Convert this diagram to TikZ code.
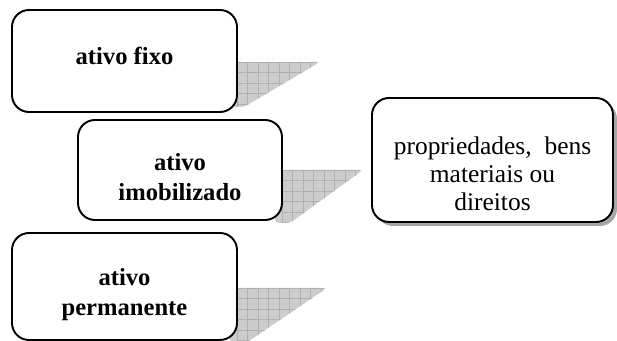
\documentclass[tikz,border=0pt]{standalone}
\usepackage{fontspec}
\setmainfont{Liberation Serif}
\usetikzlibrary{calc}
\newcommand\boxtext[2]{\raisebox{#1}[0pt][0pt]{\begin{tabular}{@{}c@{}}#2\end{tabular}}}
\tikzset{
  box/.style={draw, line width=1.1pt, rounded corners=0.34cm, fill=white, inner sep=0pt, font=\fontsize{14}{17}\selectfont\bfseries},
  textbox/.style={box, font=\fontsize{14.5}{15.9}\selectfont},
  wedge/.style={fill=gray!40, draw=none},
  wedgegrid/.style={step=0.21, gray!62, line width=0.4pt}
}
\begin{document}
\begin{tikzpicture}
			%%%%% START %%%%%
			\useasboundingbox (0, 0) rectangle (12.34, -6.82);
			
			% shadow wedges
			\begin{scope}
				\clip[rounded corners=0.08cm] (4.6, -1.24) -- (6.4, -1.24) -- (4.88, -2.14) -- (4.6, -2.14) -- cycle;
				\fill[wedge] (4.6, -1.2) rectangle (6.5, -2.2);
				\draw[wedgegrid, shift={(4.74, -1.24)}] (0, -1.05) grid (1.7, 0);
			\end{scope}
			\begin{scope}
				\clip[rounded corners=0.08cm] (5.5, -3.4) -- (7.26, -3.4) -- (5.8, -4.46) -- (5.5, -4.46) -- cycle;
				\fill[wedge] (5.5, -3.35) rectangle (7.4, -4.5);
				\draw[wedgegrid, shift={(5.64, -3.4)}] (0, -1.1) grid (1.7, 0);
			\end{scope}
			\begin{scope}
				\clip[rounded corners=0.08cm] (4.6, -5.76) -- (6.54, -5.76) -- (4.92, -6.86) -- (4.6, -6.86) -- cycle;
				\fill[wedge] (4.6, -5.7) rectangle (6.6, -6.9);
				\draw[wedgegrid, shift={(4.74, -5.76)}] (0, -1.1) grid (1.9, 0);
			\end{scope}
			
			% boxes
			\node[box, minimum width=4.5cm, minimum height=2.04cm] (fixo) at (2.49, -1.22) {\boxtext{-2.1pt}{ativo fixo}};
			\node[box, minimum width=4.08cm, minimum height=2.0cm] (imob) at (3.6, -3.4) {\boxtext{-9pt}{ativo\\imobilizado}};
			\node[box, minimum width=4.5cm, minimum height=2.14cm] (perm) at (2.49, -5.73) {\boxtext{-8pt}{ativo\\permanente}};
			
			\fill[gray!70, rounded corners=0.34cm] (7.52, -2.04) rectangle (12.34, -4.52);
			\node[textbox, minimum width=4.82cm, minimum height=2.48cm] (bens) at (9.85, -3.2) {\boxtext{-13pt}{propriedades,~ bens\\materiais ou\\direitos}};
			
			%%%%% END %%%%%
\end{tikzpicture}
\end{document}
